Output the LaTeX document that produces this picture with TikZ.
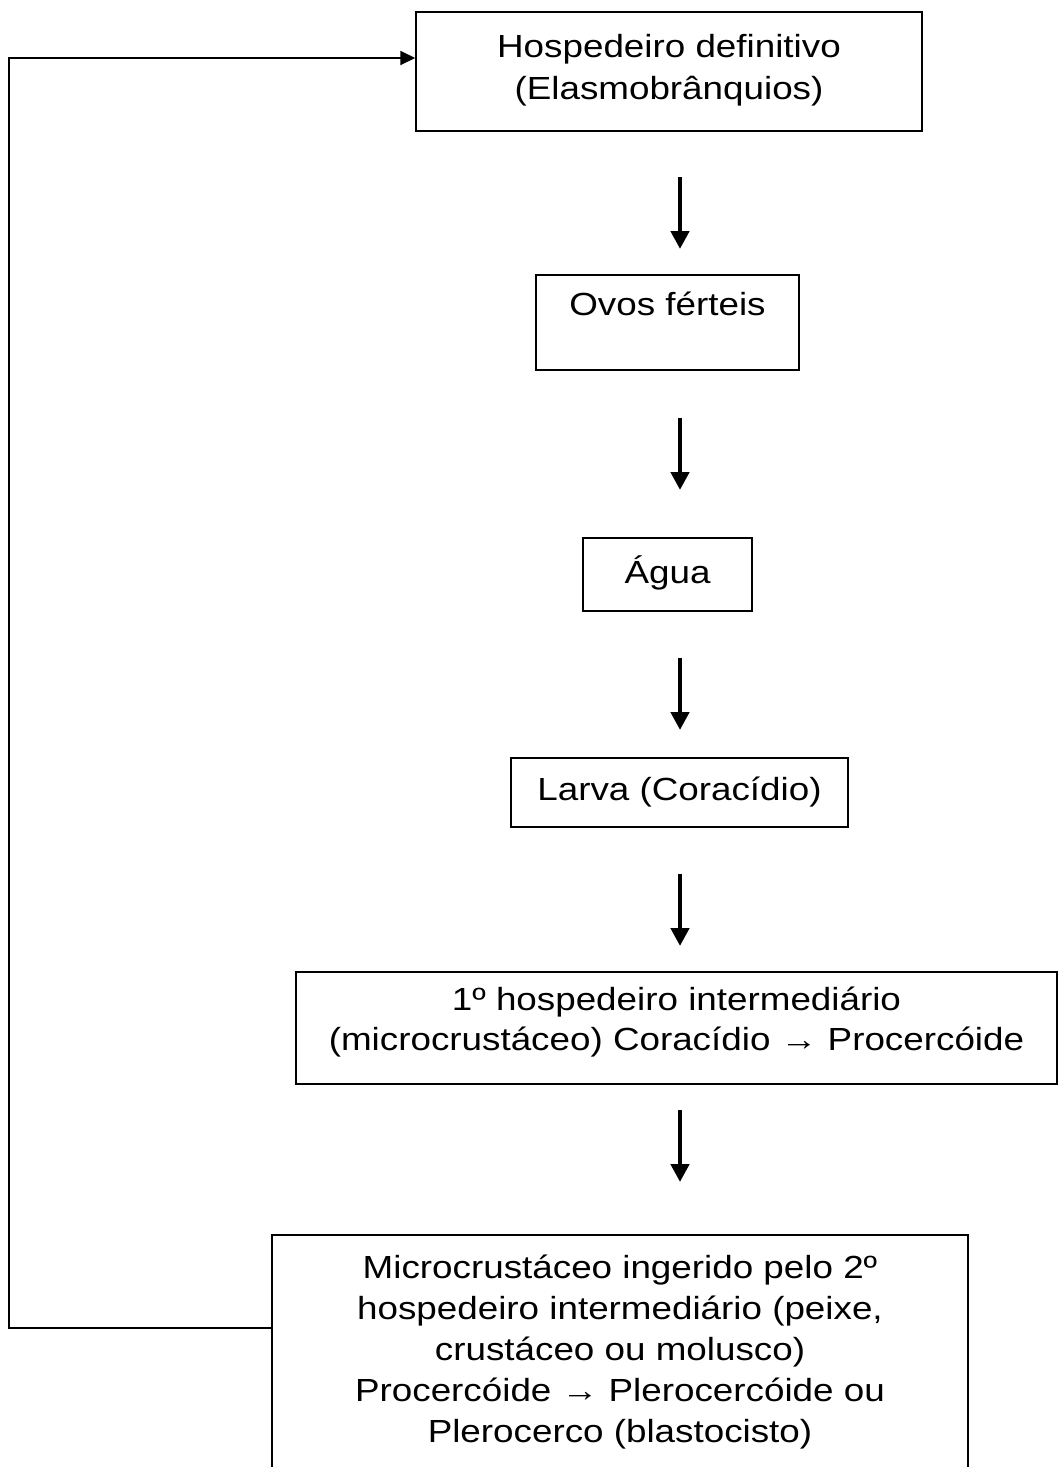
\documentclass[tikz,border=0pt]{standalone}
\usepackage{fontspec}
\setmainfont{Liberation Sans}[FakeStretch=1.15]
\usetikzlibrary{arrows.meta}
\newcommand{\topgap}[1]{\rule{0pt}{#1pt}}
\newcommand{\botgap}[1]{\rule[-#1pt]{0pt}{0pt}}
\begin{document}
\begin{tikzpicture}[x=1pt,y=-1pt,
  boxx/.style={draw,line width=1.5pt,inner xsep=0pt,inner ysep=0pt,anchor=north,align=center,font=\fontsize{32}{40}\selectfont},
  downarrow/.style={line width=4.5pt,-{Triangle[length=18pt,width=18pt]}},
  backarrow/.style={line width=2pt,-{Triangle[length=15pt,width=14pt]}}]
\useasboundingbox (0,0) rectangle (1058,1467);
\node[boxx,minimum width=506pt,font=\fontsize{32}{42}\selectfont] (b1) at (669,11) {\topgap{46}Hospedeiro definitivo\\(Elasmobrânquios)\botgap{31}};
\node[boxx,minimum width=263pt] (b2) at (667.5,274) {\topgap{41}Ovos férteis\botgap{54}};
\node[boxx,minimum width=169pt] (b3) at (667.5,537) {\topgap{46}Água\botgap{27}};
\node[boxx,minimum width=337pt] (b4) at (679.5,757) {\topgap{43}Larva (Coracídio)\botgap{26}};
\node[boxx,minimum width=761pt] (b5) at (676.5,971) {\topgap{39}1º hospedeiro intermediário\\(microcrustáceo) Coracídio → Procercóide\botgap{33}};
\node[boxx,minimum width=696pt,font=\fontsize{32}{41}\selectfont] (b6) at (620,1234) {\topgap{44}Microcrustáceo ingerido pelo 2º\\hospedeiro intermediário (peixe,\\crustáceo ou molusco)\\Procercóide → Plerocercóide ou\\Plerocerco (blastocisto)\botgap{38}};
\coordinate (a1s) at (680,177); \coordinate (a1e) at (680,249);
\coordinate (a2s) at (680,418); \coordinate (a2e) at (680,490);
\coordinate (a3s) at (680,658); \coordinate (a3e) at (680,730);
\coordinate (a4s) at (680,874); \coordinate (a4e) at (680,946);
\coordinate (a5s) at (680,1110); \coordinate (a5e) at (680,1182);
\draw[downarrow] (a1s) -- (a1e);
\draw[downarrow] (a2s) -- (a2e);
\draw[downarrow] (a3s) -- (a3e);
\draw[downarrow] (a4s) -- (a4e);
\draw[downarrow] (a5s) -- (a5e);
\coordinate (c1) at (9,1328);
\coordinate (c2) at (9,58);
\draw[backarrow] (b6.west |- c1) -- (c1) -- (c2) -- (c2 -| b1.west);
\end{tikzpicture}
\end{document}
